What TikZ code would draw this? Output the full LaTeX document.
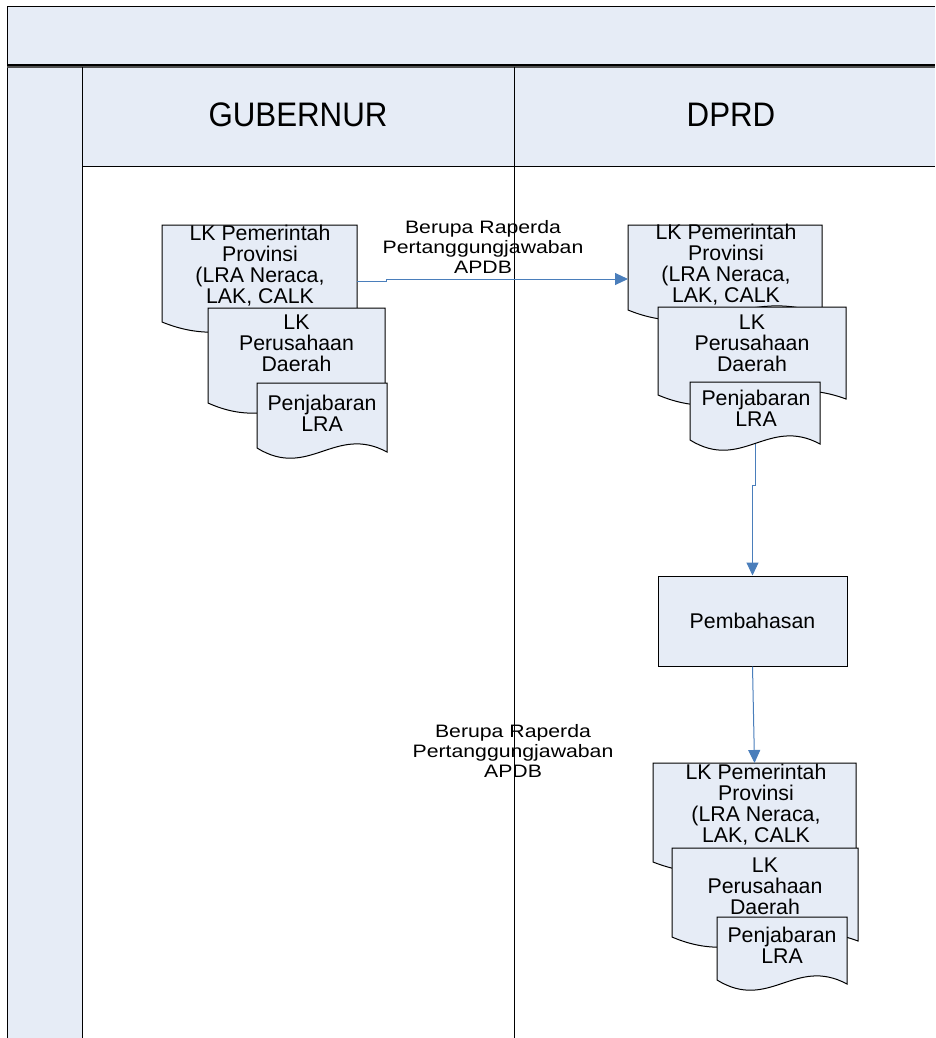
\documentclass[tikz,border=0pt]{standalone}
\usepackage{fontspec}
\setmainfont{Liberation Sans}
\newfontfamily\labelfont[FakeStretch=1.18]{Liberation Sans}
\newfontfamily\narrowfont[FakeStretch=0.92]{Liberation Sans}
\usetikzlibrary{arrows.meta}

\definecolor{lanefill}{HTML}{E6ECF6}
\definecolor{flowblue}{HTML}{4A7EBB}
\definecolor{rulegray}{HTML}{505050}

\tikzset{
  laneline/.style={draw=black, line width=1pt},
  docbox/.style={fill=lanefill, draw=black, line width=1pt, line join=miter},
  anchorbox/.style={rectangle, inner sep=0pt, outer sep=0pt},
  doctext/.style={align=center, inner sep=0pt, font=\fontsize{21.3}{21}\selectfont},
  lanetitle/.style={inner sep=0pt, font=\narrowfont\fontsize{34}{38}\selectfont},
  flowlabel/.style={align=center, inner sep=0pt, font=\labelfont\fontsize{18}{20}\selectfont},
  procbox/.style={rectangle, fill=lanefill, draw=black, line width=1pt, inner sep=0pt,
    font=\fontsize{21.3}{24}\selectfont},
  flow/.style={draw=flowblue, line width=1pt, -{Triangle[length=13pt, width=12pt]}}
}

% document symbol: #1 name, (#2,#3) top left, #4 right edge, #5 bottom of left side
\newcommand{\docshape}[5]{%
  \path[docbox] (#2,#3) -- (#4,#3) -- (#4,#5+4)
    .. controls ({#2+0.6*(#4-#2)},#5-24) and ({#2+0.4*(#4-#2)},#5+32) .. (#2,#5) -- cycle;
  \node[anchorbox, minimum width={#4-#2}, minimum height={#5-#3}] (#1)
    at ({(#2+#4)/2},{(#3+#5)/2}) {};
}

\begin{document}
\begin{tikzpicture}[x=1pt, y=-1pt]
\useasboundingbox (0,0) rectangle (935,1038);

% pool: title band, side strip and lane headers
\fill[lanefill] (7,7) rectangle (935,66);
\fill[lanefill] (7,67) rectangle (82,1038);
\fill[lanefill] (82,67) rectangle (935,166);
\draw[laneline] (7,1038) -- (7,7) -- (935,7);
\draw[draw=black, line width=1.2pt] (7,65) -- (935,65);
\draw[draw=rulegray, line width=1.4pt] (7,67.2) -- (935,67.2);
\draw[laneline] (82,67) -- (82,1038);
\draw[laneline] (514,67) -- (514,1038);
\draw[laneline] (82,166) -- (935,166);

\node[lanetitle] (gub) at (298,115) {GUBERNUR};
\node[lanetitle] (dprd) at (731,115) {DPRD};

% documents held by the governor
\docshape{gA}{162}{225}{357}{322}
\node[doctext] (gAt) at (260,266) {LK Pemerintah\\Provinsi\\(LRA Neraca,\\LAK, CALK};
\docshape{gB}{208}{308}{385}{403}
\node[doctext] (gBt) at (296.5,343) {LK\\Perusahaan\\Daerah};
\docshape{gC}{257}{383}{387}{448}
\node[doctext] (gCt) at (322,413) {Penjabaran\\LRA};

% documents received by the DPRD
\docshape{dA}{628}{225}{822}{310}
\node[doctext] (dAt) at (726,265) {LK Pemerintah\\Provinsi\\(LRA Neraca,\\LAK, CALK};
\docshape{dB}{658}{307}{846}{395}
\node[doctext] (dBt) at (752,343) {LK\\Perusahaan\\Daerah};
\docshape{dC}{690}{382}{820}{440}
\node[doctext] (dCt) at (756,408) {Penjabaran\\LRA};

% discussion step
\node[procbox, minimum width=189pt, minimum height=90pt] (pb) at (752.5,621) {Pembahasan};

% documents after discussion
\docshape{bA}{653}{763}{856}{862}
\node[doctext] (bAt) at (756,805) {LK Pemerintah\\Provinsi\\(LRA Neraca,\\LAK, CALK};
\docshape{bB}{672}{848}{858}{937}
\node[doctext] (bBt) at (765,886) {LK\\Perusahaan\\Daerah};
\docshape{bC}{717}{917}{847}{980}
\node[doctext] (bCt) at (782,945.5) {Penjabaran\\LRA};

% labels
\node[flowlabel] (lab1) at (483,247) {Berupa Raperda\\Pertanggungjawaban\\APDB};
\node[flowlabel] (lab2) at (513,751) {Berupa Raperda\\Pertanggungjawaban\\APDB};

% connectors
\coordinate (yA) at (0,281);
\coordinate (yB) at (0,279);
\draw[flow] (gA.east |- yA) -- ++(29,0) -- ++(0,-2) -- (dA.west |- yB);
\draw[flow] ([yshift=-4pt]dC.south) -- ++(0,41) -| (pb.north);
\draw[flow] (pb.south) -- (bA.north);
\end{tikzpicture}
\end{document}
